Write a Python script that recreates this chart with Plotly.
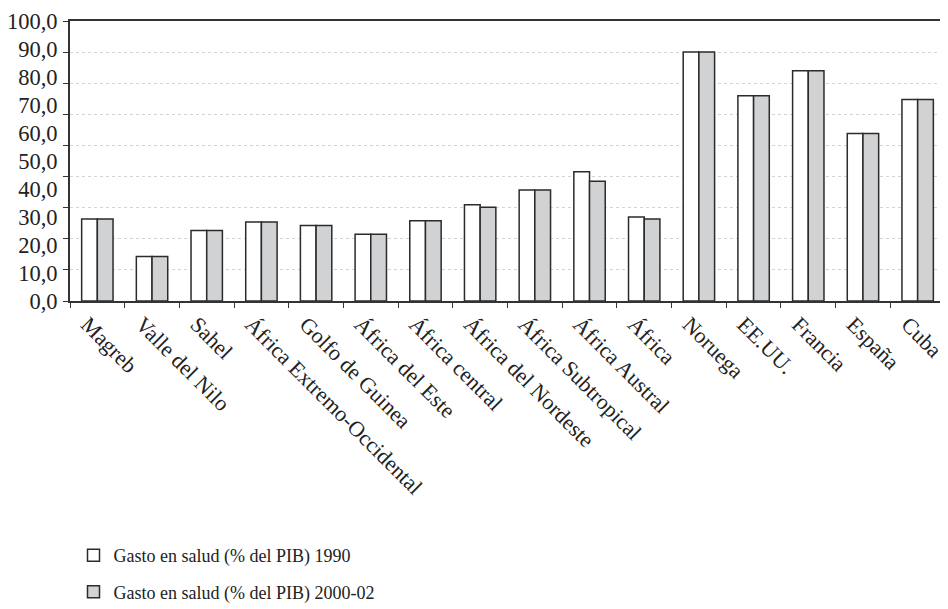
import plotly.graph_objects as go

categories = ["Magreb", "Valle del Nilo", "Sahel", "África Extremo-Occidental",
              "Golfo de Guinea", "África del Este", "África central",
              "África del Nordeste", "África Subtropical", "África Austral",
              "África", "Noruega", "EE.UU.", "Francia", "España", "Cuba"]
gasto_1990 = [29.3, 15.9, 25.2, 28.2, 27.0, 23.8, 28.7, 34.4, 39.6, 46.2,
              30.0, 88.9, 73.3, 82.2, 59.8, 72.0]
gasto_2000 = [29.3, 15.9, 25.2, 28.2, 27.0, 23.8, 28.7, 33.5, 39.6, 42.8,
              29.3, 88.9, 73.3, 82.2, 59.8, 72.0]
series_names = ["Gasto en salud (% del PIB) 1990", "Gasto en salud (% del PIB) 2000-02"]
y_ticks = [0, 10, 20, 30, 40, 50, 60, 70, 80, 90, 100]

FONT = "Liberation Serif"
EDGE = "#2b2b2b"

fig = go.Figure()
fig.add_trace(go.Bar(x=categories, y=gasto_1990, name=series_names[0],
                     marker=dict(color="#ffffff", line=dict(color=EDGE, width=1.5)),
                     legendgroup="a"))
fig.add_trace(go.Bar(x=categories, y=gasto_2000, name=series_names[1],
                     marker=dict(color="#d1d2d4", line=dict(color=EDGE, width=1.5)),
                     legendgroup="b"))
# empty helper trace to carry the dotted grid axis
fig.add_trace(go.Scatter(x=[], y=[], yaxis="y2", showlegend=False, hoverinfo="skip"))

fig.update_layout(
    width=940, height=601,
    margin=dict(l=62, r=2.5, t=13, b=308, autoexpand=False),
    paper_bgcolor="white", plot_bgcolor="white",
    separators=",.",
    barmode="group", bargap=0.426, bargroupgap=0,
    font=dict(family=FONT, color="#222222", size=20),
    xaxis=dict(type="category", tickson="boundaries", ticks="outside", ticklen=5,
               tickwidth=1.2, tickcolor="#333", tickangle=45, ticklabelshift=-10,
               showgrid=False, showline=True, linecolor="#333", linewidth=1.8,
               mirror=True, automargin=False,
               tickfont=dict(family=FONT, size=22, color="#222")),
    yaxis=dict(range=[0, 100], tickvals=y_ticks, tickformat=".1f", ticks="",
               showgrid=False, zeroline=False, showline=True, linecolor="#333",
               linewidth=1.8, mirror=True, automargin=False, ticklabelstandoff=6,
               ticklabeloverflow="allow",
               tickfont=dict(family=FONT, size=22.5, color="#222")),
    yaxis2=dict(range=[0, 100], overlaying="y", side="left", tick0=0, dtick=100 / 9,
                showticklabels=False, ticks="outside", ticklen=6, tickwidth=1.2,
                tickcolor="#333", showgrid=True, gridcolor="#d4d4d4", gridwidth=1,
                griddash="dot", zeroline=False, showline=False, automargin=False),
    legend=dict(orientation="v", x=0.004, xanchor="left", y=-0.843, yanchor="top",
                font=dict(family=FONT, size=18, color="#222"),
                tracegroupgap=10, bgcolor="rgba(0,0,0,0)", itemwidth=30),
    showlegend=True,
)

fig.write_html("out.html")
